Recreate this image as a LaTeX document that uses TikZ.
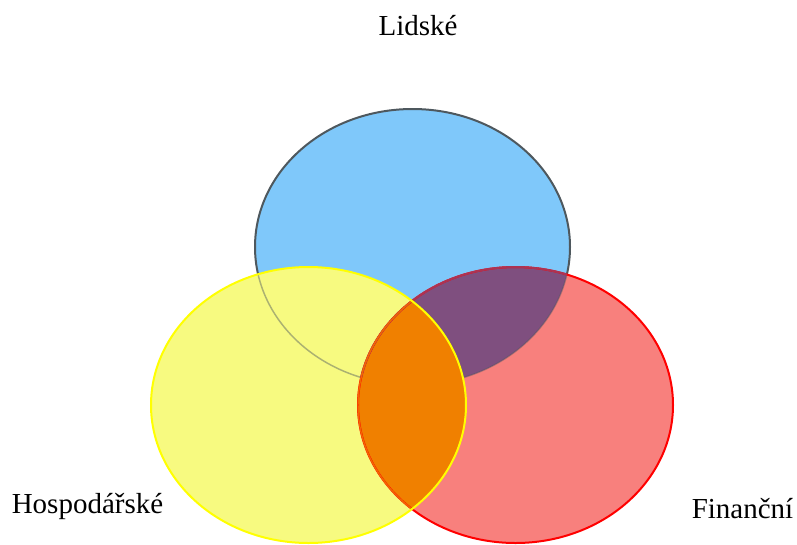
\documentclass[tikz,border=0pt]{standalone}
\usepackage{fontspec}
\setmainfont{Liberation Serif}
\usetikzlibrary{positioning}

\definecolor{lidfill}{RGB}{127,200,250}
\definecolor{lidline}{RGB}{78,88,94}
\definecolor{hosfill}{RGB}{247,250,128}
\definecolor{hosline}{RGB}{255,255,0}
\definecolor{finfill}{RGB}{248,128,125}
\definecolor{finline}{RGB}{255,0,0}
\definecolor{lidfin}{RGB}{127,79,127}
\definecolor{hosfin}{RGB}{240,128,0}

\tikzset{
    setlabel/.style={font=\fontsize{21.75}{26}\selectfont, inner sep=0pt, anchor=base},
    rim/.style={line width=1.5pt},
    thinrim/.style={line width=1.1pt}
}

\begin{document}
\begin{tikzpicture}[x=0.75pt, y=-0.75pt]
    % Define the ellipse size
    \def\rx{118.125pt}
    \def\ry{103.5pt}

    \useasboundingbox (0,0) rectangle (797,544);

    \coordinate (lid) at (412.5,247);
    \coordinate (hos) at (308.5,405);
    \coordinate (fin) at (515.5,405);

    % Lidske
    \fill[lidfill] (lid) ellipse [x radius=\rx, y radius=\ry];
    \draw[rim, lidline] (lid) ellipse [x radius=\rx, y radius=\ry];

    % Hospodarske
    \fill[hosfill] (hos) ellipse [x radius=\rx, y radius=\ry];
    \begin{scope}
        \clip (hos) ellipse [x radius=\rx, y radius=\ry];
        \draw[thinrim, lidline!45!hosfill] (lid) ellipse [x radius=\rx, y radius=\ry];
    \end{scope}

    % Financni
    \fill[finfill] (fin) ellipse [x radius=\rx, y radius=\ry];
    \begin{scope}
        \clip (fin) ellipse [x radius=\rx, y radius=\ry];
        \fill[lidfin] (lid) ellipse [x radius=\rx, y radius=\ry];
        \draw[thinrim, lidline, opacity=0.4] (lid) ellipse [x radius=\rx, y radius=\ry];
        \fill[hosfin] (hos) ellipse [x radius=\rx, y radius=\ry];
    \end{scope}
    \draw[rim, finline] (fin) ellipse [x radius=\rx, y radius=\ry];
    \begin{scope}
        \clip (lid) ellipse [x radius=\rx, y radius=\ry];
        \draw[rim, finline!35!lidfin] (fin) ellipse [x radius=\rx, y radius=\ry];
    \end{scope}
    \begin{scope}
        \clip (hos) ellipse [x radius=\rx, y radius=\ry];
        \draw[thinrim, finline!20!hosfin] (fin) ellipse [x radius=\rx, y radius=\ry];
    \end{scope}

    % Yellow rim on top
    \draw[rim, hosline] (hos) ellipse [x radius=\rx, y radius=\ry];

    % Labels
    \node[setlabel] (lidske) at (418,35) {Lidské};
    \node[setlabel] (hospodarske) at (87.5,513) {Hospodářské};
    \node[setlabel] (financni) at (742.5,518) {Finanční};

\end{tikzpicture}
\end{document}
